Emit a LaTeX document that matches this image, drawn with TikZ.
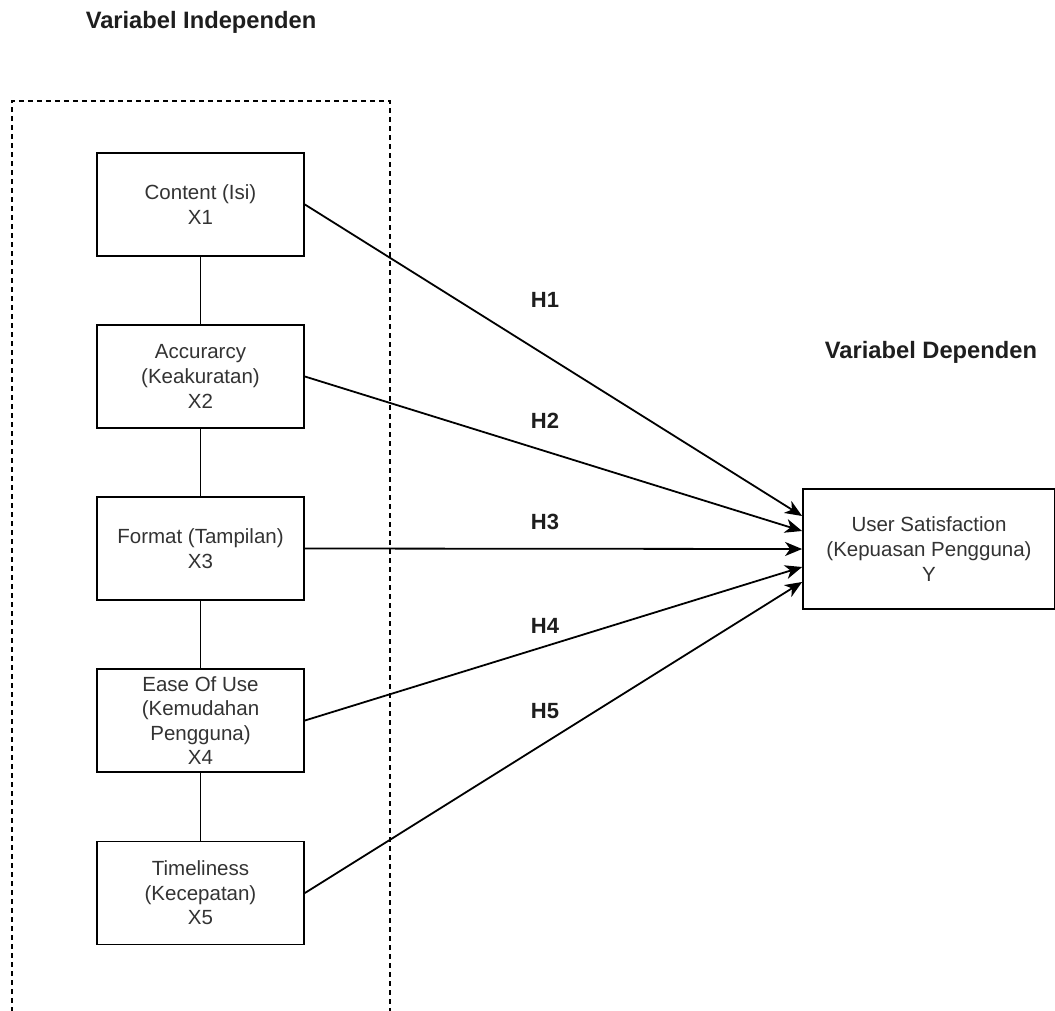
\documentclass[tikz,border=0pt]{standalone}
\usepackage{fontspec}
\setmainfont{Liberation Sans}
\usetikzlibrary{arrows.meta,calc}
\definecolor{txt}{HTML}{333333}
\definecolor{hd}{HTML}{1E1E1E}
\tikzset{
  varbox/.style={draw=black, line width=1.8pt, fill=white, minimum width=207pt, minimum height=103pt, inner sep=0pt, align=center, text=txt, font=\fontsize{20.5}{24.6}\selectfont},
  depbox/.style={varbox, minimum width=252pt, minimum height=120pt},
  heading/.style={text=hd, font=\fontsize{23.7}{28}\selectfont\bfseries, inner sep=0pt, anchor=base},
  hlabel/.style={text=hd, font=\fontsize{22}{26}\selectfont\bfseries, inner sep=0pt, anchor=base},
  link/.style={line width=1.8pt, draw=black},
  hyp/.style={line width=1.8pt, draw=black, -{Stealth[length=17pt,width=14pt,inset=5pt]}},
  frame/.style={line width=1.4pt, draw=black, dash pattern=on 5pt off 4pt}
}
\begin{document}
\begin{tikzpicture}[x=1pt,y=-1pt]
\useasboundingbox (0,0) rectangle (1055,1010);
% dashed frame (open at the bottom)
\coordinate (fbl) at (12,1012);
\coordinate (ftl) at (12,101);
\coordinate (ftr) at (390,101);
\coordinate (fbr) at (390,1012);
\draw[frame] (fbl) -- (ftl) -- (ftr) -- (fbr);

\node[heading] (tind) at (201,28) {Variabel Independen};
\node[heading] (tdep) at (931,358) {Variabel Dependen};

\node[varbox] (x1) at (200.5,204.5) {Content (Isi)\\X1};
\node[varbox] (x2) at (200.5,376.5) {Accurarcy\\(Keakuratan)\\X2};
\node[varbox] (x3) at (200.5,548.5) {Format (Tampilan)\\X3};
\node[varbox] (x4) at (200.5,720.5) {Ease Of Use\\(Kemudahan\\Pengguna)\\X4};
\node[varbox] (x5) at (200.5,893) {Timeliness\\(Kecepatan)\\X5};

\node[depbox] (y) at (929,549) {User Satisfaction\\(Kepuasan Pengguna)\\Y};

\draw[link] (x1) -- (x2);
\draw[link] (x2) -- (x3);
\draw[link] (x3) -- (x4);
\draw[link] (x4) -- (x5);

\draw[hyp] (x1.east) -- ($(y.west)+(0,-33)$);
\draw[hyp] (x2.east) -- ($(y.west)+(0,-18)$);
\draw[hyp] (x3.east) -- (y.west);
\draw[hyp] (x4.east) -- ($(y.west)+(0,18)$);
\draw[hyp] (x5.east) -- ($(y.west)+(0,33)$);

\node[hlabel] (h1) at (545,307) {H1};
\node[hlabel] (h2) at (545,428) {H2};
\node[hlabel] (h3) at (545,529) {H3};
\node[hlabel] (h4) at (545,633) {H4};
\node[hlabel] (h5) at (545,718) {H5};
\end{tikzpicture}
\end{document}
